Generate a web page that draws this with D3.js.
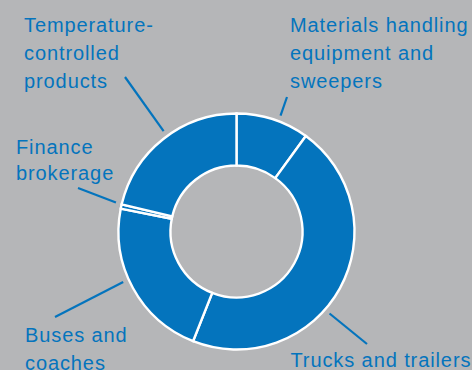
<!DOCTYPE html>
<html>
<head>
<meta charset="utf-8">
<script src="https://cdn.jsdelivr.net/npm/d3@7/dist/d3.min.js"></script>
<style>
  html, body { margin: 0; padding: 0; background: #b5b6b8; }
  svg { display: block; }
  text { font-family: "Liberation Sans", Arial, Helvetica, sans-serif; }
</style>
</head>
<body>
<svg id="chart" width="472" height="370"></svg>
<script>
// Segments, clockwise from 12 o'clock (share of total, %)
const categories = [
  "Materials handling equipment and sweepers",
  "Trucks and trailers",
  "Buses and coaches",
  "Finance brokerage",
  "Temperature-controlled products"
];
const shares = [10, 46, 22.1, 0.6, 21.3];

// Label text broken into lines
const labelLines = [
  ["Materials handling", "equipment and", "sweepers"],
  ["Trucks and trailers"],
  ["Buses and", "coaches"],
  ["Finance", "brokerage"],
  ["Temperature-", "controlled", "products"]
];

const W = 472, H = 370;
const cx = 236.5, cy = 231.5;
const outerR = 118, innerR = 66;
const blue = "#0474bd";

// Label placement: text origin, line height, and leader line (start angle on ring, end point)
const layout = [
  { x: 290, y: 31.5, lh: 28.4, lead: { angle: 20.8, x2: 287, y2: 97 } },
  { x: 290.5, y: 367, lh: 28.4, lead: { angle: 131.4, x2: 367, y2: 344 } },
  { x: 25, y: 342, lh: 28.4, lead: { angle: 246, x2: 55, y2: 317 } },
  { x: 16, y: 154.3, lh: 25.8, lead: { angle: 283.5, x2: 78, y2: 188 } },
  { x: 24, y: 31.5, lh: 28.4, lead: { angle: 324, x2: 125, y2: 77 } }
];

const svg = d3.select("#chart");
svg.append("rect").attr("width", W).attr("height", H).attr("fill", "#b5b6b8");

const data = categories.map((c, i) => ({ name: c, value: shares[i] }));

const pie = d3.pie().sort(null).value(d => d.value).startAngle(0).endAngle(2 * Math.PI);
const arc = d3.arc().innerRadius(innerR).outerRadius(outerR);

const g = svg.append("g").attr("transform", `translate(${cx},${cy})`);
g.selectAll("path.slice")
  .data(pie(data))
  .join("path")
  .attr("class", "slice")
  .attr("d", arc)
  .attr("fill", blue)
  .attr("stroke", "#ffffff")
  .attr("stroke-width", 2.4)
  .attr("stroke-linejoin", "miter");

// Leader lines
const leadR = 124;
svg.append("g").selectAll("line")
  .data(layout)
  .join("line")
  .attr("x1", d => cx + leadR * Math.sin(d.lead.angle * Math.PI / 180))
  .attr("y1", d => cy - leadR * Math.cos(d.lead.angle * Math.PI / 180))
  .attr("x2", d => d.lead.x2)
  .attr("y2", d => d.lead.y2)
  .attr("stroke", blue)
  .attr("stroke-width", 2.2);

// Labels
const labels = svg.append("g").selectAll("text")
  .data(layout)
  .join("text")
  .attr("x", d => d.x)
  .attr("y", d => d.y)
  .attr("fill", blue)
  .attr("font-size", 20)
  .attr("letter-spacing", 0.9);

labels.each(function(d, i) {
  d3.select(this).selectAll("tspan")
    .data(labelLines[i])
    .join("tspan")
    .attr("x", d.x)
    .attr("dy", (t, j) => j === 0 ? 0 : d.lh)
    .text(t => t);
});
</script>
</body>
</html>
